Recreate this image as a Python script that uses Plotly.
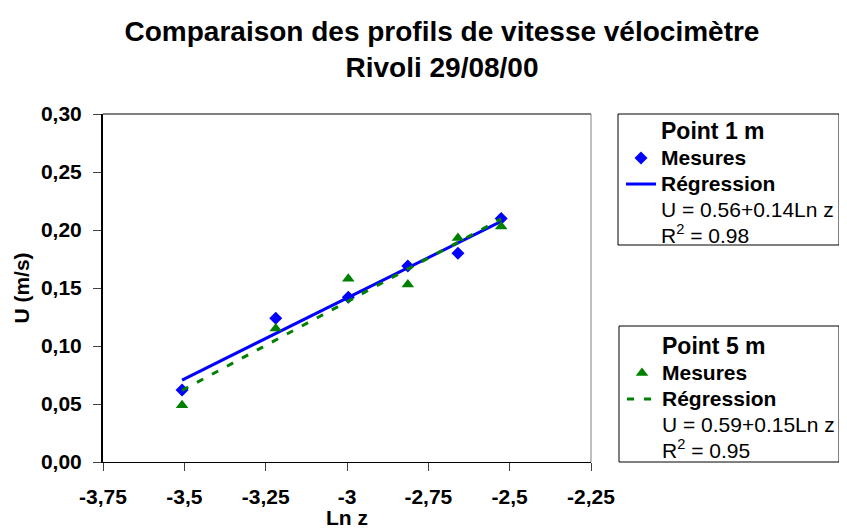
import numpy as np
import plotly.graph_objects as go

# ---------------- data ----------------
ln_z = [-3.507, -3.219, -2.996, -2.813, -2.659, -2.526]
u_point1 = [0.062, 0.124, 0.142, 0.169, 0.180, 0.210]
u_point5 = [0.049, 0.115, 0.158, 0.153, 0.193, 0.203]

series_names = ["Point 1 m", "Point 5 m"]
eq_labels = ["U = 0.56+0.14Ln z", "U = 0.59+0.15Ln z"]
r2_labels = ["R<sup>2</sup> = 0.98", "R<sup>2</sup> = 0.95"]

x_tickvals = [-3.75, -3.5, -3.25, -3.0, -2.75, -2.5, -2.25]
x_ticktext = ["-3,75", "-3,5", "-3,25", "-3", "-2,75", "-2,5", "-2,25"]
y_tickvals = [0.0, 0.05, 0.10, 0.15, 0.20, 0.25, 0.30]
y_ticktext = ["0,00", "0,05", "0,10", "0,15", "0,20", "0,25", "0,30"]

FONT = "Liberation Sans, Arial, sans-serif"
BLUE = "#0000FF"
GREEN = "#008000"

# page body has an 8px margin -> figure is 8px smaller and offsets are in figure px
OFF = 8
W, H = 847 - OFF, 529 - OFF
PL, PR, PT, PB = 103 - OFF, 591 - OFF, 114 - OFF, 462 - OFF   # plot area (figure px)
PW, PH = PR - PL, PB - PT


def px_x(x):
    return (x - OFF - PL) / PW


def px_y(y):
    return (PB - (y - OFF)) / PH


fig = go.Figure()


def fit_line(x, y):
    coef = np.polyfit(np.array(x), np.array(y), 1)
    xs = np.array([min(x), max(x)])
    return xs, np.polyval(coef, xs)


def dummy(name, legend):
    return go.Scatter(x=[None], y=[None], mode="markers",
                      marker=dict(color="rgba(0,0,0,0)", size=1),
                      name=name, legend=legend, showlegend=True,
                      hoverinfo="skip")


configs = [
    (u_point1, BLUE, "diamond", 10, "solid", "legend", 0),
    (u_point5, GREEN, "triangle-up", 11, "7px,10px", "legend2", 1),
]

for u, color, sym, msize, dash, leg, i in configs:
    fig.add_trace(dummy("<span style='font-size:23px'><b>%s</b></span>" % series_names[i], leg))
    fig.add_trace(go.Scatter(
        x=ln_z, y=u, mode="markers",
        marker=dict(symbol=sym, size=msize, color=color, line=dict(width=0)),
        name="<span style='font-size:21px'><b>Mesures</b></span>", legend=leg))
    xs, ys = fit_line(ln_z, u)
    fig.add_trace(go.Scatter(
        x=xs, y=ys, mode="lines",
        line=dict(color=color, width=3, dash=dash),
        name="<span style='font-size:21px'><b>Régression</b></span>", legend=leg))
    fig.add_trace(dummy("<span style='font-size:21px'>%s</span>" % eq_labels[i], leg))
    fig.add_trace(dummy("<span style='font-size:21px'>%s</span>" % r2_labels[i], leg))

legend_common = dict(
    xref="paper", yref="paper", xanchor="left", yanchor="top",
    borderwidth=0, bgcolor="rgba(0,0,0,0)",
    font=dict(family=FONT, size=17.7, color="black"),
    itemwidth=30, tracegroupgap=0, traceorder="normal",
)

# legend frames (screen px of the reference)
box1 = (618, 114, 839, 245)
box2 = (619, 326, 839, 462)

shapes = [
    dict(type="line", xref="paper", yref="paper", x0=0, x1=1, y0=1, y1=1,
         line=dict(color="black", width=1)),
    dict(type="line", xref="paper", yref="paper", x0=1, x1=1, y0=0, y1=1,
         line=dict(color="#808080", width=1)),
]
for (x0, y0, x1, y1) in (box1, box2):
    shapes.append(dict(type="rect", xref="paper", yref="paper",
                       x0=px_x(x0), x1=px_x(x1), y0=px_y(y1), y1=px_y(y0),
                       line=dict(color="black", width=1), fillcolor="rgba(0,0,0,0)",
                       layer="above"))

fig.update_layout(
    width=W, height=H,
    margin=dict(l=PL, r=W - PR, t=PT, b=H - PB, autoexpand=False),
    paper_bgcolor="white", plot_bgcolor="white",
    font=dict(family=FONT, color="black"),
    title=dict(
        text="<b>Comparaison des profils de vitesse vélocimètre<br>Rivoli 29/08/00</b>",
        font=dict(family=FONT, size=28, color="black"),
        x=(442 - OFF) / W, xanchor="center", xref="container",
        y=1 - 33 / H, yanchor="top", yref="container",
    ),
    legend=dict(x=px_x(box1[0] + 3), y=px_y(box1[1]), **legend_common),
    legend2=dict(x=px_x(box2[0] + 3), y=px_y(box2[1] + 3), **legend_common),
    showlegend=True,
    xaxis=dict(
        range=[-3.75, -2.25], tickvals=x_tickvals, ticktext=x_ticktext,
        showline=True, linecolor="black", linewidth=1, mirror=False,
        ticks="outside", ticklen=8, tickcolor="#404040", tickwidth=1,
        ticklabelstandoff=8,
        showgrid=False, zeroline=False,
        tickfont=dict(family=FONT, size=21, color="black", weight="bold"),
        title=dict(text="<b>Ln z</b>", font=dict(family=FONT, size=21, color="black"),
                   standoff=8),
    ),
    yaxis=dict(
        range=[0, 0.30], tickvals=y_tickvals, ticktext=y_ticktext,
        showline=True, linecolor="black", linewidth=2, mirror=False,
        ticks="outside", ticklen=8, tickcolor="#404040", tickwidth=1,
        ticklabelstandoff=7,
        showgrid=False, zeroline=False,
        tickfont=dict(family=FONT, size=21, color="black", weight="bold"),
        title=dict(text="<b>U (m/s)</b>", font=dict(family=FONT, size=21, color="black"),
                   standoff=6),
    ),
    shapes=shapes,
)

fig.write_html("out.html")
